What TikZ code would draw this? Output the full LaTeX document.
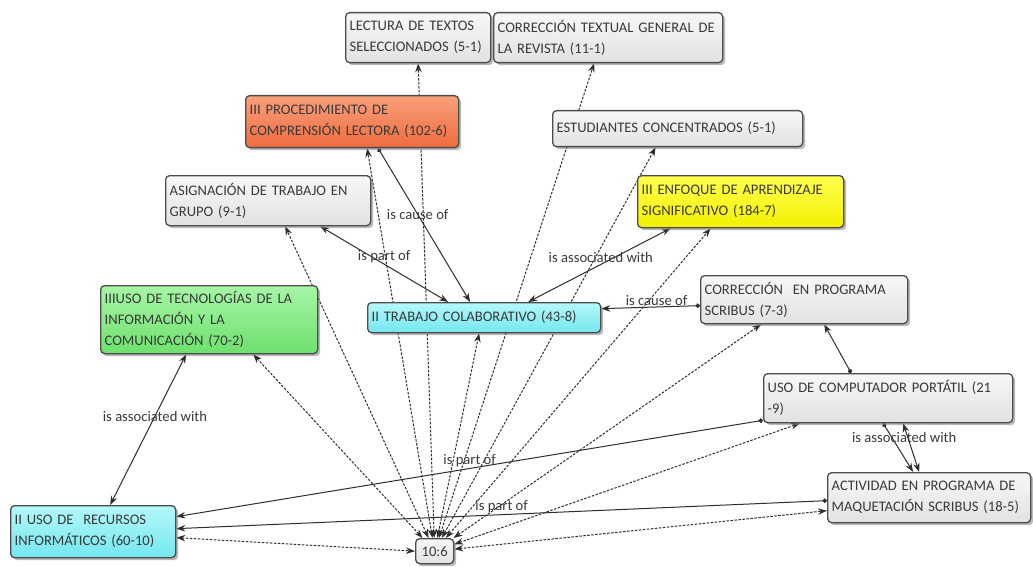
\documentclass[tikz,border=0pt]{standalone}
\usepackage{fontspec}
\setmainfont{Carlito}
\usetikzlibrary{arrows.meta}
\usetikzlibrary{shadows,backgrounds}
\usepackage{xcolor}
\definecolor{boxline}{HTML}{4C4C4C}
\definecolor{linkgray}{HTML}{2E2E2E}
\definecolor{textgray}{HTML}{3A3A3A}
\definecolor{graytop}{HTML}{F7F7F7}
\definecolor{graybot}{HTML}{E2E2E2}
\definecolor{orangetop}{HTML}{F9A07C}
\definecolor{orangebot}{HTML}{EE6B3E}
\definecolor{yellowtop}{HTML}{FFFF50}
\definecolor{yellowbot}{HTML}{F4F000}
\definecolor{greentop}{HTML}{A6F5A6}
\definecolor{greenbot}{HTML}{6EE06E}
\definecolor{cyantop}{HTML}{B4F8FA}
\definecolor{cyanbot}{HTML}{74E6EF}

\tikzset{
  concept/.style={draw=boxline, line width=1.3pt, rounded corners=4pt, anchor=north west,
    align=left, inner xsep=4pt, inner ysep=3pt, text=textgray,
    font=\fontsize{14.6}{21}\selectfont,
    drop shadow={shadow xshift=2.5pt, shadow yshift=-2.5pt, opacity=.55},
    top color=graytop, bottom color=graybot},
  orangebox/.style={concept, top color=orangetop, bottom color=orangebot},
  yellowbox/.style={concept, top color=yellowtop, bottom color=yellowbot},
  greenbox/.style={concept, top color=greentop, bottom color=greenbot},
  cyanbox/.style={concept, top color=cyantop, bottom color=cyanbot},
  link/.style={draw=linkgray, line width=1pt, >={Stealth[length=9pt,width=6.5pt]}},
  dot/.tip={Circle[length=4.5pt]},
  dashlink/.style={link, dash pattern=on 2.5pt off 1.5pt, <->},
  rel/.style={font=\fontsize{14.6}{16}\selectfont, text=textgray, inner sep=1pt}
}

\begin{document}
\begin{tikzpicture}[x=1pt, y=-1pt]
\useasboundingbox (0,0) rectangle (1033,567);

% concepts
\node[concept, text width=137pt, minimum height=50pt] (lect) at (345,12) {LECTURA DE TEXTOS\\SELECCIONADOS (5-1)};
\node[concept, text width=221pt, minimum height=50pt] (corrt) at (493,12) {CORRECCIÓN TEXTUAL GENERAL DE\\LA REVISTA (11-1)};
\node[orangebox, text width=205pt, minimum height=52pt] (proc) at (245,95) {III PROCEDIMIENTO DE\\COMPRENSIÓN LECTORA (102-6)};
\node[concept, text width=242pt, minimum height=36pt] (est) at (552,110) {ESTUDIANTES CONCENTRADOS (5-1)};
\node[concept, text width=197pt, minimum height=50pt] (asig) at (165,175) {ASIGNACIÓN DE TRABAJO EN\\GRUPO (9-1)};
\node[yellowbox, text width=198pt, minimum height=52pt] (enf) at (637,175) {III ENFOQUE DE APRENDIZAJE\\SIGNIFICATIVO (184-7)};
\node[greenbox, text width=209pt, minimum height=68pt] (tic) at (100,285) {IIIUSO DE TECNOLOGÍAS DE LA\\INFORMACIÓN Y LA\\COMUNICACIÓN (70-2)};
\node[cyanbox, text width=225pt, minimum height=30pt] (trab) at (367,302) {II TRABAJO COLABORATIVO (43-8)};
\node[concept, text width=199pt, minimum height=48pt] (corrs) at (700,275) {CORRECCIÓN~ EN PROGRAMA\\SCRIBUS (7-3)};
\node[concept, text width=241pt, minimum height=49pt] (comp) at (763,373) {USO DE COMPUTADOR PORTÁTIL (21\\-9)};
\node[concept, text width=195pt, minimum height=50pt] (act) at (827,472) {ACTIVIDAD EN PROGRAMA DE\\MAQUETACIÓN SCRIBUS (18-5)};
\node[cyanbox, text width=157pt, minimum height=52pt] (rec) at (10,505) {II USO DE~ RECURSOS\\INFORMÁTICOS (60-10)};
\node[concept, inner xsep=3pt, minimum width=38pt, minimum height=25pt, align=center] (q) at (415,538) {10:6};

\begin{scope}[on background layer]
\fill[white] (0,0) rectangle (1033,567);
% quotation links
\foreach \dest/\dx in {lect/0, corrt/-14, proc/15, est/-22, asig/17, enf/-30, corrs/-43, tic/44, trab/-5}
  \draw[dashlink] (q) -- ([xshift=\dx pt]\dest.south);
\draw[dashlink] (q) -- ([xshift=37pt]comp.south west);
\draw[dashlink] (q) -- ([yshift=-13pt]act.west);
\draw[dashlink] ([yshift=-6pt]rec.east) -- (q.west);

% relations
\draw[link, dot->] ([xshift=26pt]proc.south) -- node[rel, pos=.43] {is cause of} ([xshift=-14pt]trab.north);
\draw[link, <->] ([xshift=52pt]asig.south) -- node[rel, above, pos=.5] {is part of} ([xshift=-36pt]trab.north);
\draw[link, <->] ([xshift=44pt]trab.north) -- node[rel, above, pos=.51] {is associated with} ([xshift=-70pt]enf.south);
\draw[link, dot->] ([yshift=-6pt]corrs.west) -- node[rel, above, pos=.44] {is cause of} ([yshift=9pt]trab.east);
\draw[link, dot->] ([xshift=-37pt]comp.north) -- ([xshift=20pt]corrs.south);
\draw[link, <->] ([xshift=-23pt]tic.south) -- node[rel, pos=.41] {is associated with} ([xshift=17pt]rec.north);
\draw[link, dot->] ([yshift=3pt]comp.south west) -- node[rel, above, pos=.5] {is part of} ([yshift=15pt]rec.east);
\draw[link, dot->] ([yshift=-3pt]act.west) -- node[rel, above, pos=.5] {is part of} ([yshift=3pt]rec.east);
\draw[link, dot->] ([xshift=-5pt]comp.south) -- node[rel, pos=.3, xshift=12pt] {is associated with} ([xshift=-16pt]act.north);
\draw[link, <->] ([xshift=-10pt]act.north) -- ([xshift=15pt]comp.south);
\end{scope}
\end{tikzpicture}
\end{document}
